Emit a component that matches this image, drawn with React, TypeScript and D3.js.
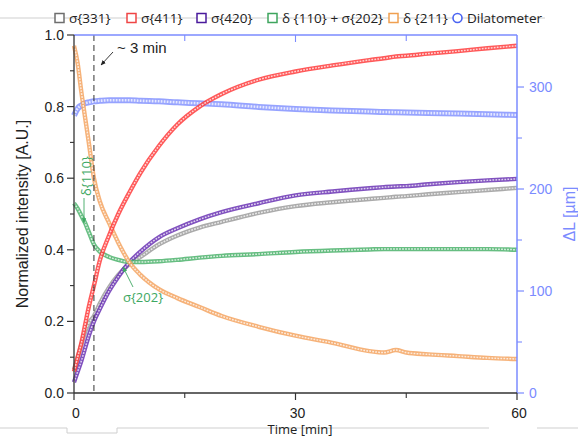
import React from "react";
import * as d3 from "d3";

// ---- data ----
const times = [0, 0.5, 1, 1.5, 2, 2.7, 3.5, 4.75, 6, 7.5, 9, 11.5, 14, 17, 20, 25, 30, 35, 40, 42, 43.6, 45, 48, 52, 56, 60];
const sigma331 = [0.065, 0.1, 0.135, 0.17, 0.195, 0.215, 0.25, 0.295, 0.33, 0.36, 0.38, 0.415, 0.44, 0.462, 0.478, 0.503, 0.522, 0.533, 0.542, 0.545, 0.548, 0.55, 0.555, 0.561, 0.567, 0.573];
const sigma411 = [0.06, 0.1, 0.14, 0.19, 0.24, 0.3, 0.37, 0.44, 0.5, 0.56, 0.615, 0.69, 0.75, 0.8, 0.835, 0.875, 0.898, 0.915, 0.93, 0.935, 0.94, 0.942, 0.948, 0.955, 0.963, 0.97];
const sigma420 = [0.03, 0.06, 0.09, 0.125, 0.16, 0.2, 0.235, 0.285, 0.325, 0.365, 0.395, 0.435, 0.46, 0.485, 0.505, 0.53, 0.552, 0.563, 0.572, 0.575, 0.577, 0.578, 0.583, 0.589, 0.594, 0.598];
const delta110 = [0.53, 0.515, 0.495, 0.475, 0.45, 0.415, 0.395, 0.38, 0.372, 0.366, 0.366, 0.368, 0.372, 0.378, 0.383, 0.388, 0.394, 0.398, 0.401, 0.402, 0.402, 0.402, 0.402, 0.402, 0.402, 0.4];
const delta211 = [0.97, 0.92, 0.84, 0.77, 0.7, 0.6, 0.535, 0.475, 0.42, 0.365, 0.33, 0.29, 0.265, 0.24, 0.215, 0.185, 0.16, 0.14, 0.117, 0.113, 0.12, 0.113, 0.108, 0.103, 0.098, 0.095];
const dilatometer = [272, 279, 282, 284, 285, 286, 286.5, 287, 287, 287, 286.5, 286, 285, 284, 283, 280.5, 278.5, 277, 276, 275.5, 275.3, 275, 274.5, 274, 273.3, 272.5];

const xTicks = [0, 30, 60];
const xMinor = [15, 45];
const yTicks = [0, 0.2, 0.4, 0.6, 0.8, 1.0];
const yMinor = [0.1, 0.3, 0.5, 0.7, 0.9];
const rTicks = [0, 100, 200, 300];
const rMinor = [50, 150, 250];
const markerTime = 2.7;

const seriesNames = ["σ{331}", "σ{411}", "σ{420}", "δ {110} + σ{202}", "δ {211}", "Dilatometer"];

const W = 578, H = 439;
const x = d3.scaleLinear().domain([0, 60]).range([74, 517]);
const y = d3.scaleLinear().domain([0, 1]).range([393, 35]);
const yR = d3.scaleLinear().domain([0, 351]).range([393, 35]);

const series = [
  { vals: sigma331, color: "#9c9c9c", scale: y },
  { vals: sigma420, color: "#6a32b4", scale: y },
  { vals: delta110, color: "#4cb36c", scale: y },
  { vals: delta211, color: "#f4a462", scale: y },
  { vals: sigma411, color: "#ff3c3c", scale: y },
];

const legendColors = ["#6e6e6e", "#ef4545", "#4a1a9c", "#3ea55e", "#f0a050", "#4a64f2"];
const legendX = [55, 127, 197, 268, 389, 453];

function Chain({ vals, color, scale, w = 4.4, inner = 1.5 }: any) {
  const line = d3
    .line<number>()
    .x((_, i) => x(times[i]))
    .y((v) => scale(v))
    .curve(d3.curveMonotoneX);
  const d = line(vals) || "";
  return (
    <g>
      <path d={d} fill="none" stroke={color} strokeWidth={w} strokeOpacity={0.85} strokeLinejoin="round" />
      <path d={d} fill="none" stroke="#fff" strokeWidth={inner} strokeOpacity={0.75} strokeDasharray="1.8 1.2" />
    </g>
  );
}

export default function App() {
  const font = "'Liberation Sans', Arial, sans-serif";
  const font2 = "'Open Sans', 'Noto Sans', sans-serif";
  const blue = "#7b8bff";
  const green = "#3ea862";
  return (
    <svg width={W} height={H} style={{ position: "absolute", left: 0, top: 0, background: "#fff" }}>
      <defs>
        <marker id="arrK" viewBox="0 0 10 10" refX="9" refY="5" markerWidth="6" markerHeight="6" orient="auto">
          <path d="M0,1 L10,5 L0,9 z" fill="#222" />
        </marker>
        <marker id="arrG" viewBox="0 0 10 10" refX="9" refY="5" markerWidth="6" markerHeight="6" orient="auto">
          <path d="M0,1 L10,5 L0,9 z" fill={green} />
        </marker>
      </defs>
      {/* background slide artifacts */}
      <path d="M0,18 H545" stroke="#cfcfcf" strokeWidth={1} fill="none" />
      <path d="M0,428 H67 V433 H117 V428 H489 M537,428 H578" stroke="#cfcfcf" strokeWidth={1} fill="none" />

      {/* dilatometer (right axis) */}
      <Chain vals={dilatometer} color="#8493ff" scale={yR} w={6} inner={2.6} />
      {series.map((s, i) => (
        <Chain key={i} vals={s.vals} color={s.color} scale={s.scale} />
      ))}

      {/* dashed marker line */}
      <line x1={x(markerTime)} x2={x(markerTime)} y1={35} y2={393} stroke="#333" strokeWidth={1} strokeDasharray="6 4" />

      {/* axes frame */}
      <line x1={74} x2={517} y1={35} y2={35} stroke={blue} strokeWidth={1.5} />
      <line x1={517} x2={517} y1={35} y2={393} stroke={blue} strokeWidth={1.5} />
      <line x1={74} x2={74} y1={35} y2={393} stroke="#333" strokeWidth={1.3} />
      <line x1={74} x2={517} y1={393} y2={393} stroke="#333" strokeWidth={1.3} />

      {/* left ticks */}
      {yTicks.map((t) => (
        <g key={"y" + t}>
          <line x1={67} x2={74} y1={y(t)} y2={y(t)} stroke="#333" strokeWidth={1.2} />
          <text x={64} y={y(t) + 5} textAnchor="end" fontFamily={font} fontSize={14} fill="#222">
            {t.toFixed(1)}
          </text>
        </g>
      ))}
      {yMinor.map((t) => (
        <line key={"ym" + t} x1={70} x2={74} y1={y(t)} y2={y(t)} stroke="#333" strokeWidth={1.1} />
      ))}
      {/* right ticks */}
      {rTicks.map((t) => (
        <g key={"r" + t}>
          <line x1={517} x2={524} y1={yR(t)} y2={yR(t)} stroke={blue} strokeWidth={1.2} />
          <text x={529} y={yR(t) + 5} fontFamily={font} fontSize={14} fill={blue}>
            {t}
          </text>
        </g>
      ))}
      {rMinor.map((t) => (
        <line key={"rm" + t} x1={517} x2={522} y1={yR(t)} y2={yR(t)} stroke={blue} strokeWidth={1.1} />
      ))}
      {/* bottom ticks */}
      {xTicks.map((t) => (
        <g key={"x" + t}>
          <line x1={x(t)} x2={x(t)} y1={393} y2={400} stroke="#333" strokeWidth={1.2} />
          <text x={x(t) + 2} y={418} textAnchor="middle" fontFamily={font} fontSize={14} fill="#222">
            {t}
          </text>
        </g>
      ))}
      {xMinor.map((t) => (
        <g key={"xm" + t}>
          <line x1={x(t)} x2={x(t)} y1={393} y2={398} stroke="#333" strokeWidth={1.1} />
          <line x1={x(t)} x2={x(t)} y1={35} y2={41} stroke={blue} strokeWidth={1.1} />
        </g>
      ))}
      <line x1={x(30)} x2={x(30)} y1={35} y2={42} stroke={blue} strokeWidth={1.1} />

      {/* axis titles */}
      <text transform="translate(28,214) rotate(-90)" textAnchor="middle" fontFamily={font} fontSize={16} fill="#222">
        Normalized intensity [A.U.]
      </text>
      <text transform="translate(575,214) rotate(-90)" textAnchor="middle" fontFamily={font} fontSize={16} fill={blue}>
        ΔL [µm]
      </text>
      <text x={300} y={434} textAnchor="middle" fontFamily={font2} fontSize={13} fill="#222">
        Time [min]
      </text>

      {/* annotations */}
      <text x={117} y={53} fontFamily={font} fontSize={15} fill="#222">~ 3 min</text>
      <line x1={113} y1={52} x2={101} y2={65} stroke="#222" strokeWidth={0.9} markerEnd="url(#arrK)" />
      <text transform="translate(91,196) rotate(-90)" fontFamily={font2} fontSize={13} fill={green}>{"δ{110}"}</text>
      <line x1={84} y1={198} x2={84} y2={223} stroke={green} strokeWidth={0.9} markerEnd="url(#arrG)" />
      <text x={123} y={302} fontFamily={font2} fontSize={13} fill={green}>{"σ{202}"}</text>
      <line x1={133} y1={287} x2={123} y2={267} stroke={green} strokeWidth={0.9} markerEnd="url(#arrG)" />

      {/* legend */}
      {seriesNames.map((n, i) => (
        <g key={"lg" + i}>
          {i === 5 ? (
            <circle cx={legendX[i] + 4.5} cy={18} r={4.5} fill="#fff" stroke={legendColors[i]} strokeWidth={1.6} />
          ) : (
            <rect x={legendX[i]} y={13.5} width={9} height={9} fill="#fff" stroke={legendColors[i]} strokeWidth={1.5} />
          )}
          <text x={legendX[i] + 14} y={23} fontFamily={font2} fontSize={13.5} fill="#222">
            {n}
          </text>
        </g>
      ))}
    </svg>
  );
}
